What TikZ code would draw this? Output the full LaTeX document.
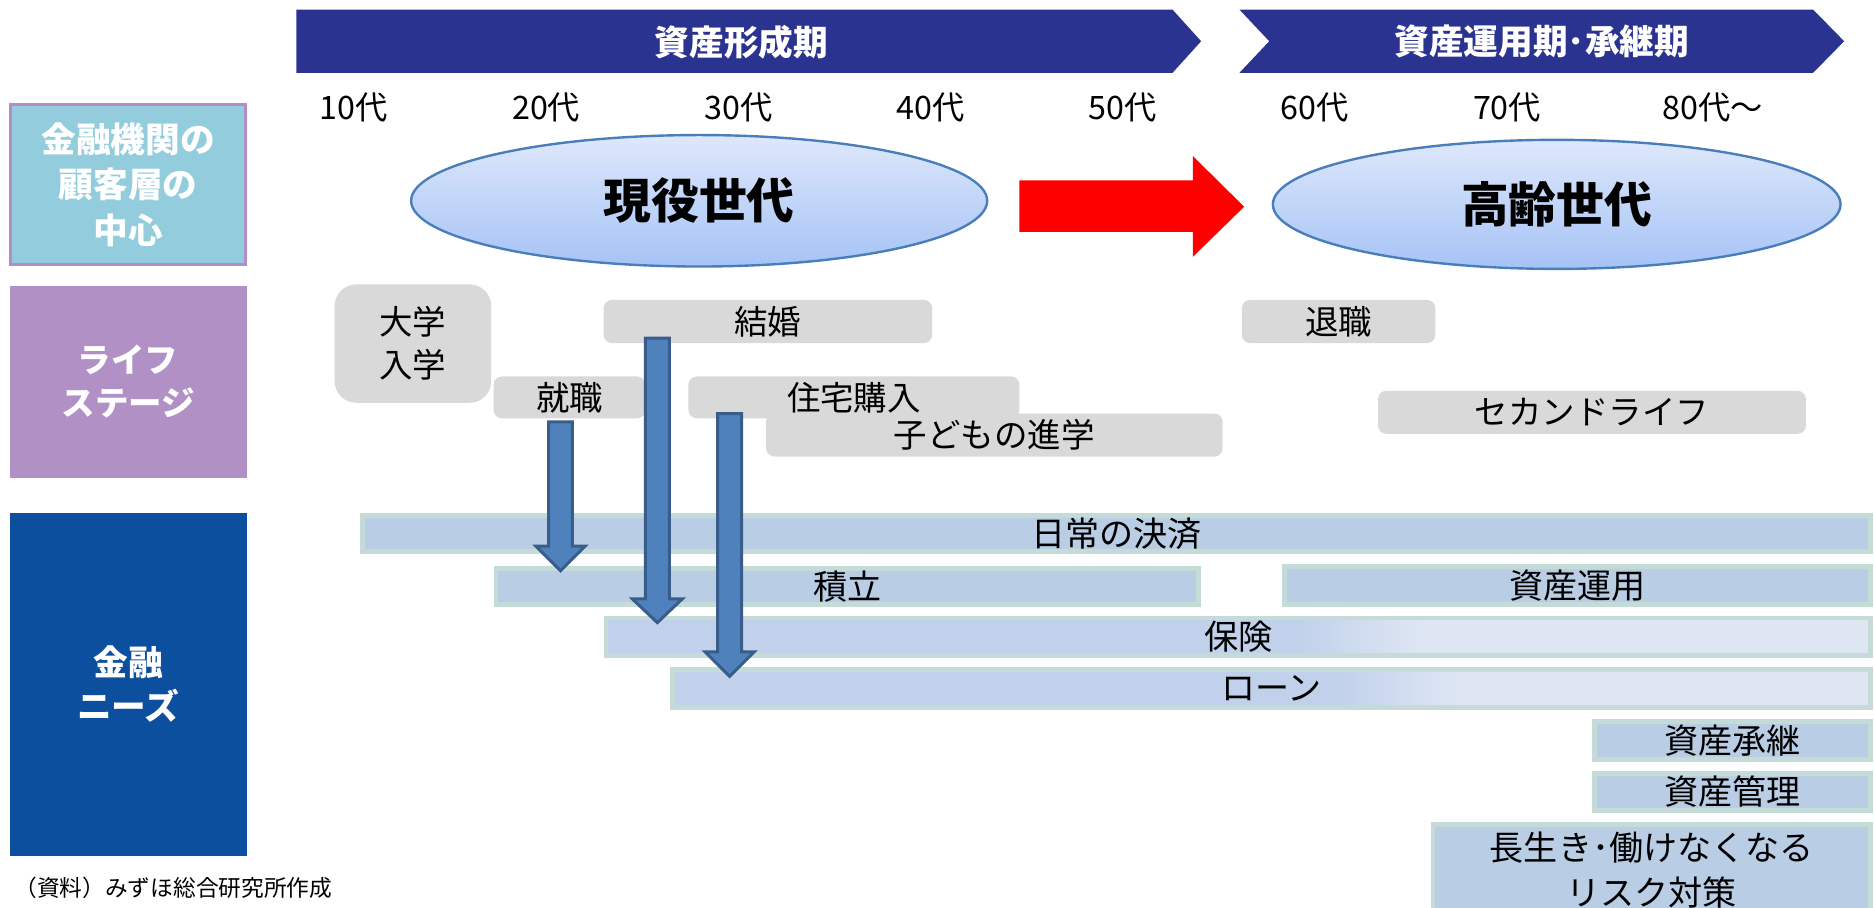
\documentclass[tikz,border=0pt]{standalone}
\usepackage{fontspec}
\setmainfont{Noto Sans CJK JP}
\usetikzlibrary{shapes.geometric}
\definecolor{navy}{HTML}{2B3391}
\definecolor{cyanbox}{HTML}{93CDDD}
\definecolor{purpleedge}{HTML}{B28DC8}
\definecolor{lifebox}{HTML}{B190C6}
\definecolor{needbox}{HTML}{0B4F9E}
\definecolor{ellTop}{HTML}{DEE8FB}
\definecolor{ellBot}{HTML}{A6C3F6}
\definecolor{ellEdge}{HTML}{4A7EBB}
\definecolor{stagegray}{HTML}{D9D9D9}
\definecolor{arrfill}{HTML}{4F81BD}
\definecolor{arredge}{HTML}{385D8A}
\definecolor{barfill}{HTML}{B9CDE5}
\definecolor{baredge}{HTML}{C4DBD7}
\definecolor{barfilltwo}{HTML}{C1D1EB}
\definecolor{barlight}{HTML}{DEE6F3}
\definecolor{redarrow}{HTML}{FF0000}
\newcommand\jsz[2]{\fontsize{#1}{#2}\selectfont}
\tikzset{
  every node/.style={inner sep=0pt, outer sep=0pt},
  agelbl/.style={font=\jsz{27}{30}, text=black},
  bartext/.style={font=\jsz{29}{32}\bfseries, text=white},
  sidebox/.style={minimum width=197pt, align=center, text=white},
  gen/.style={ellipse, draw=ellEdge, line width=2pt, top color=ellTop, bottom color=ellBot, font=\jsz{40}{44}\bfseries},
  stagebox/.style={fill=stagegray, rounded corners=7pt, font=\jsz{28}{36}, align=center},
  needbar/.style={fill=barfill, draw=baredge, line width=4pt, font=\jsz{28.5}{37}, align=center},
  blockarr/.style={fill=arrfill, draw=arredge, line width=2.5pt, line join=miter},
  chevron/.style={fill=navy},
}
\begin{document}
\begin{tikzpicture}[x=1pt, y=-1pt]
\useasboundingbox (0,0) rectangle (1568,759);
\fill[white] (0,0) rectangle (1568,759);

% phase chevrons
\fill[chevron] (248,8) -- (981,8) -- (1005,34.5) -- (981,61) -- (248,61) -- cycle;
\node[bartext] (phase1) at (620.5,35) {資産形成期};
\fill[chevron] (1037,8) -- (1517,8) -- (1543,34.5) -- (1517,61) -- (1037,61) -- (1062,34.5) -- cycle;
\node[bartext] (phase2) at (1290,35) {資産運用期･承継期};

% age labels
\node[agelbl] (a10) at (296,89.5) {10代};
\node[agelbl] (a20) at (457,89.5) {20代};
\node[agelbl] (a30) at (618,89.5) {30代};
\node[agelbl] (a40) at (779,89.5) {40代};
\node[agelbl] (a50) at (939,89.5) {50代};
\node[agelbl] (a60) at (1100,89.5) {60代};
\node[agelbl] (a70) at (1261,89.5) {70代};
\node[agelbl, anchor=west] (a80) at (1391,89.5) {80代～};

% side boxes
\node[sidebox, fill=cyanbox, draw=purpleedge, line width=2.5pt, minimum height=134pt,
      font=\jsz{29}{38}\bfseries] (cust) at (107.25,154.25) {金融機関の\\顧客層の\\中心};
\node[sidebox, fill=lifebox, minimum width=198.5pt, minimum height=161pt,
      font=\jsz{28}{36}\bfseries] (life) at (107.25,319.5) {ライフ\\ステージ};
\node[sidebox, fill=needbox, minimum width=198.5pt, minimum height=287pt,
      font=\jsz{29}{37}\bfseries] (needs) at (107.25,572.5) {金融\\ニーズ};

% generation ellipses
\node[gen, minimum width=482pt, minimum height=110pt] (gen1) at (585,168) {現役世代};
\node[gen, minimum width=475pt, minimum height=108pt] (gen2) at (1302.5,171) {高齢世代};
\fill[redarrow] (853,151) -- (998,151) -- (998,130.5) -- (1041,173) -- (998,215) -- (998,194) -- (853,194) -- cycle;

% life stages
\node[stagebox, rounded corners=18pt, minimum width=131pt, minimum height=99pt] (daigaku) at (345.5,287.5) {大学\\入学};
\node[stagebox, minimum width=275pt, minimum height=36pt] (kekkon) at (642.5,269) {結婚};
\node[stagebox, minimum width=127pt, minimum height=35pt] (shushoku) at (476.5,332.5) {就職};
\node[stagebox, minimum width=277pt, minimum height=35pt] (jutaku) at (714.5,332.5) {住宅購入};
\node[stagebox, minimum width=382pt, minimum height=36pt] (kodomo) at (832,364) {子どもの進学};
\node[stagebox, minimum width=162pt, minimum height=36pt] (taishoku) at (1120,269) {退職};
\node[stagebox, minimum width=358pt, minimum height=36pt] (second) at (1332,345) {セカンドライフ};

% gradient fills under the insurance and loan bars
\fill[barfilltwo] (507,517) rectangle (1086,548.5);
\shade[left color=barfilltwo, right color=barlight] (1085,517) rectangle (1190,548.5);
\fill[barlight] (1189,517) rectangle (1565,548.5);
\fill[barfilltwo] (562.5,560) rectangle (1118,592);
\shade[left color=barfilltwo, right color=barlight] (1117,560) rectangle (1221,592);
\fill[barlight] (1220,560) rectangle (1565,592);

% financial needs bars
\node[needbar, minimum width=1261.4pt, minimum height=30.7pt] (nichijo) at (934.3,446.35) {日常の決済};
\node[needbar, minimum width=588pt, minimum height=30.5pt] (tsumitate) at (709,490.75) {積立};
\node[needbar, minimum width=490.4pt, minimum height=32pt] (unyo) at (1319.8,490) {資産運用};
\node[needbar, fill=none, minimum width=1058pt, minimum height=31.5pt] (hoken) at (1036,532.75) {保険};
\node[needbar, fill=none, minimum width=1002.5pt, minimum height=32pt] (loan) at (1063.75,576) {ローン};
\node[needbar, minimum width=231pt, minimum height=31.5pt] (shokei) at (1449.5,619.75) {資産承継};
\node[needbar, minimum width=231pt, minimum height=31pt] (kanri) at (1449.5,662.5) {資産管理};
\node[needbar, minimum width=366pt, minimum height=76pt] (risk) at (1382,728) {長生き･働けなくなる\\リスク対策};

% block arrows from life events to needs
\draw[blockarr] (459,353) -- (479,353) -- (479,457) -- (489.5,457) -- (469,477.5) -- (448.5,457) -- (459,457) -- cycle;
\draw[blockarr] (540,283) -- (560,283) -- (560,501) -- (571,501) -- (550,521) -- (529,501) -- (540,501) -- cycle;
\draw[blockarr] (600.5,346) -- (620.5,346) -- (620.5,545.5) -- (631,545.5) -- (610.5,566) -- (590,545.5) -- (600.5,545.5) -- cycle;

% source
\node[font=\jsz{19}{22}, anchor=west] (src) at (12,742.5) {（資料）みずほ総合研究所作成};
\end{tikzpicture}
\end{document}
